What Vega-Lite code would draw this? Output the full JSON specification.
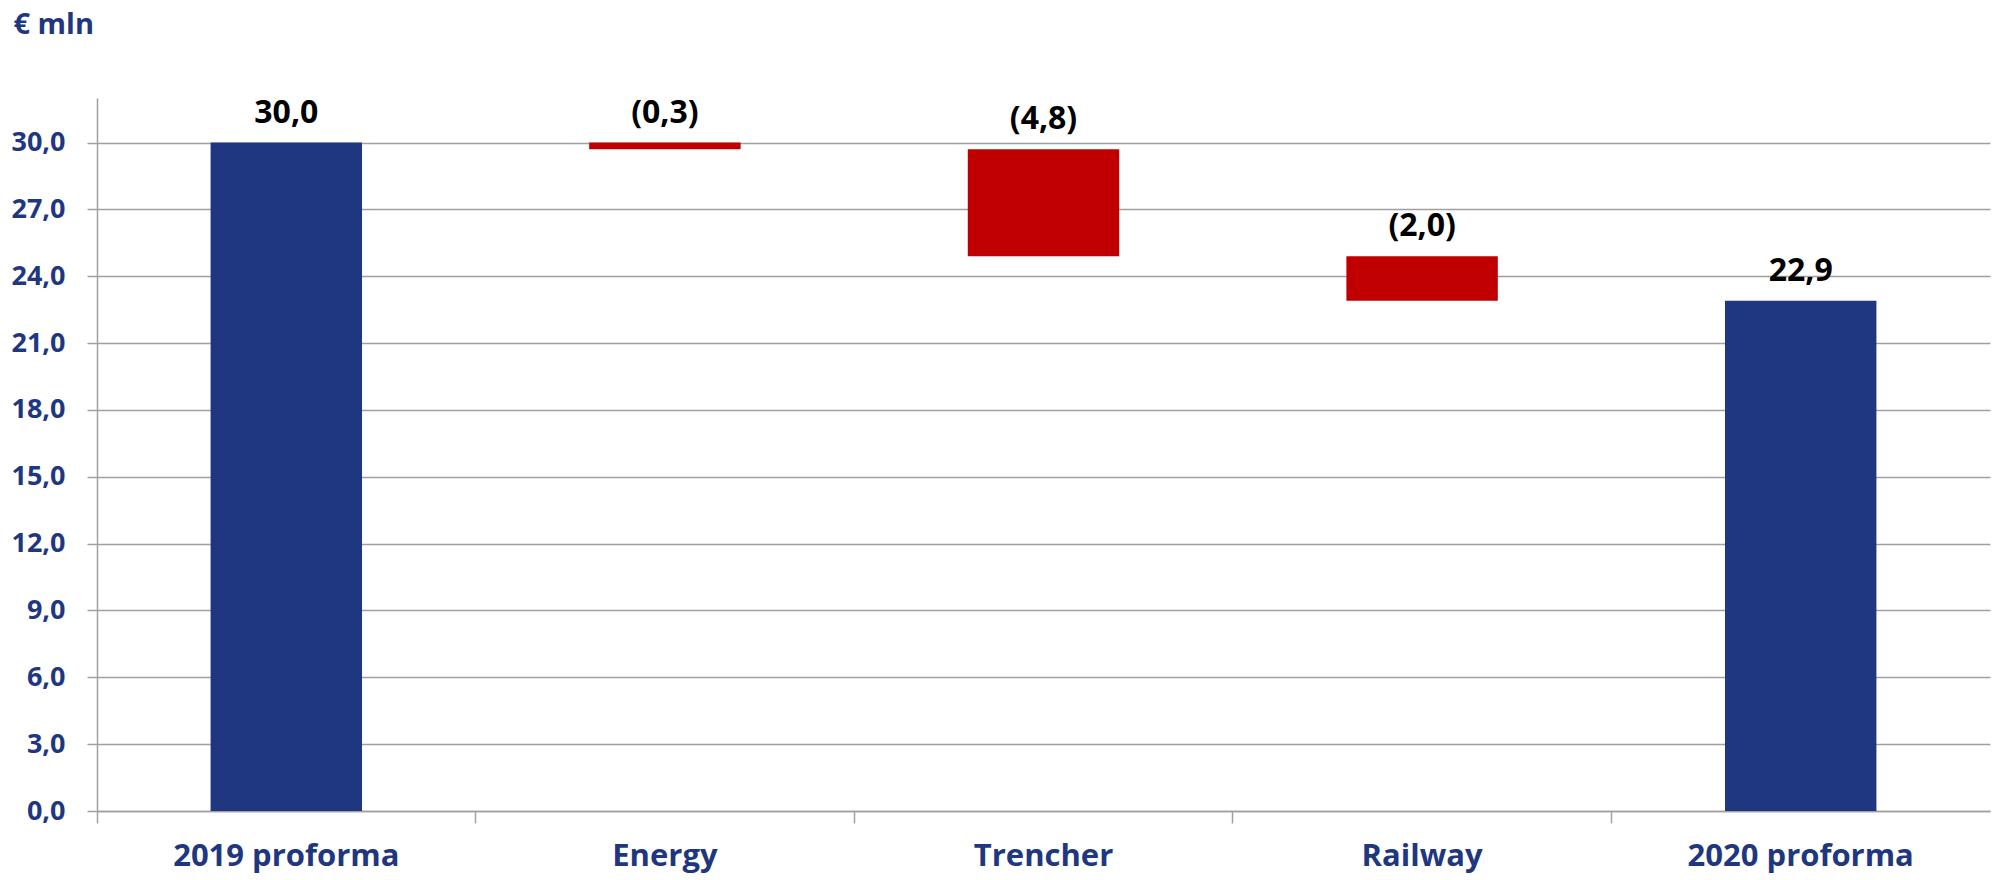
{
  "$schema": "https://vega.github.io/schema/vega-lite/v6.json",
  "width": 1893,
  "height": 713,
  "autosize": "none",
  "padding": {"left": 97, "top": 98, "right": 2, "bottom": 69},
  "background": "white",
  "config": {"view": {"stroke": null}, "font": "Open Sans"},
  "data": {
    "values": [
      {"category": "2019 proforma", "low": 0, "high": 30.0, "label": "30,0", "kind": "total"},
      {"category": "Energy", "low": 29.7, "high": 30.0, "label": "(0,3)", "kind": "decrease"},
      {"category": "Trencher", "low": 24.9, "high": 29.7, "label": "(4,8)", "kind": "decrease"},
      {"category": "Railway", "low": 22.9, "high": 24.9, "label": "(2,0)", "kind": "decrease"},
      {"category": "2020 proforma", "low": 0, "high": 22.9, "label": "22,9", "kind": "total"}
    ]
  },
  "encoding": {
    "x": {
      "field": "category",
      "type": "nominal",
      "sort": null,
      "scale": {"paddingInner": 0, "paddingOuter": 0},
      "axis": {
        "title": null,
        "bandPosition": 0,
        "tickSize": 12,
        "tickColor": "#A0A0A0",
        "tickWidth": 1.5,
        "domainColor": "#A0A0A0",
        "domainWidth": 1.5,
        "labelAngle": 0,
        "labelAlign": "center",
        "labelLimit": 0,
        "labelFontSize": 31,
        "labelFontWeight": "bold",
        "labelColor": "#1F3780",
        "labelPadding": 18
      }
    }
  },
  "layer": [
    {
      "mark": {"type": "bar", "width": {"band": 0.4}},
      "encoding": {
        "y": {
          "field": "high",
          "type": "quantitative",
          "scale": {"domain": [0, 32], "nice": false, "zero": true},
          "axis": {
            "values": [0, 3, 6, 9, 12, 15, 18, 21, 24, 27, 30],
            "labelExpr": "replace(format(datum.value, '.1f'), '.', ',')",
            "grid": true,
            "gridColor": "#A0A0A0",
            "gridWidth": 1.5,
            "domainColor": "#A0A0A0",
            "domainWidth": 1.5,
            "tickColor": "#A0A0A0",
            "tickWidth": 1.5,
            "tickSize": 10,
            "labelPadding": 22,
            "labelFontSize": 27,
            "labelFontWeight": "bold",
            "labelColor": "#1F3780",
            "title": "€ mln",
            "titleAngle": 0,
            "titleX": -84,
            "titleY": -65,
            "titleAlign": "left",
            "titleBaseline": "alphabetic",
            "titleFontSize": 29,
            "titleFontWeight": "bold",
            "titleColor": "#1F3780"
          }
        },
        "y2": {"field": "low"},
        "color": {
          "field": "kind",
          "type": "nominal",
          "scale": {"domain": ["total", "decrease"], "range": ["#1F3780", "#C00000"]},
          "legend": null
        }
      }
    },
    {
      "mark": {
        "type": "text",
        "dy": -20,
        "baseline": "alphabetic",
        "align": "center",
        "fontSize": 32,
        "fontWeight": "bold",
        "color": "black"
      },
      "encoding": {
        "y": {"field": "high", "type": "quantitative"},
        "text": {"field": "label"}
      }
    }
  ]
}
